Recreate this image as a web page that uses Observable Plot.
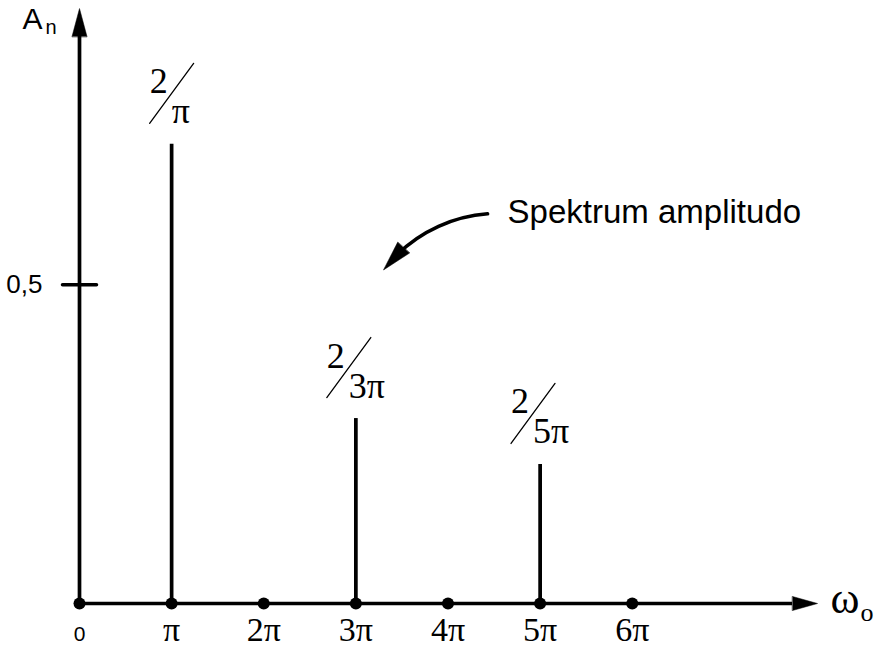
<!DOCTYPE html>
<html>
<head>
<meta charset="utf-8">
<script src="https://cdn.jsdelivr.net/npm/d3@7"></script>
<script src="https://cdn.jsdelivr.net/npm/@observablehq/plot@0.6"></script>
<style>
  html, body { margin: 0; padding: 0; background: #fff; }
  #chart svg { display: block; }
</style>
</head>
<body>
<div id="chart"></div>
<script>
// ---- data (x in multiples of π, y = amplitude) ----
const harmonicN = [1, 3, 5];
const amplitudes = [0.72, 0.29, 0.218];
const numerators = ["2", "2", "2"];
const denominators = ["π", "3π", "5π"];

const xTickValues = [0, 1, 2, 3, 4, 5, 6];
const xTickLabels = ["0", "π", "2π", "3π", "4π", "5π", "6π"];
const yTickValues = [0.5];
const yTickLabels = ["0,5"];

const xAxisTip = 8;        // arrow tip on the ω axis
const xAxisLineEnd = 7.74; // where the shaft meets the arrowhead
const yAxisTip = 0.933;
const yAxisLineEnd = 0.889;

const yAxisTitle = ["A", "n"];
const xAxisTitle = ["ω", "o"];

const noteText = ["Spektrum amplitudo"];
const noteFrom = [4.43, 0.611];
const noteTo = [3.30, 0.523];

// ---- helpers ----
const serif = "'Liberation Serif', 'Times New Roman', serif";
const sans = "'Liberation Sans', Arial, sans-serif";
const lineShape = {draw(ctx, l) { ctx.moveTo(0, 0); ctx.lineTo(0, -l); }};
const headShape = {draw(ctx, l, r) { ctx.moveTo(-r, 0); ctx.lineTo(0, -l); ctx.lineTo(r, 0); ctx.closePath(); }};

const fracSize = 36;
const canvas = document.createElement("canvas").getContext("2d");
canvas.font = `${fracSize}px ${serif}`;
const textWidth = (s) => canvas.measureText(s).width;

const bars = harmonicN.map((n, i) => ({n, a: amplitudes[i], num: numerators[i], den: denominators[i]}));
const ticks = xTickValues.map((v, i) => ({v, label: xTickLabels[i]}));

// fraction labels ("2 ⁄ 3π") centred over each bar
const slashW = 44, slashH = 60;
const fractionMarks = bars.flatMap((b) => {
  const g = Math.max(slashW, 22 + textWidth(b.den));
  const left = -g / 2;
  return [
    Plot.vector([b], {x: "n", y: "a", dx: left, dy: -21, length: Math.hypot(slashW, slashH),
      rotate: Math.atan2(slashW, slashH) * 180 / Math.PI, anchor: "start", shape: lineShape,
      stroke: "black", strokeWidth: 1.3}),
    Plot.text([b], {x: "n", y: "a", text: "num", dx: left, dy: -51, textAnchor: "start",
      lineAnchor: "bottom", fontSize: fracSize, fontFamily: serif, fill: "black"}),
    Plot.text([b], {x: "n", y: "a", text: "den", dx: left + 22, dy: -21, textAnchor: "start",
      lineAnchor: "bottom", fontSize: fracSize, fontFamily: serif, fill: "black"})
  ];
});

const chart = Plot.plot({
  width: 876,
  height: 648,
  marginLeft: 79,
  marginRight: 60,
  marginTop: 8,
  marginBottom: 45,
  x: {domain: [0, xAxisTip], axis: null},
  y: {domain: [0, yAxisTip], axis: null},
  style: {background: "white", color: "black", overflow: "visible"},
  marks: [
    // axes
    Plot.ruleX([0], {y1: 0, y2: yAxisLineEnd, stroke: "black", strokeWidth: 3.7}),
    Plot.ruleY([0], {x1: 0, x2: xAxisLineEnd, stroke: "black", strokeWidth: 3.7}),
    Plot.vector([0], {x: 0, y: yAxisLineEnd, length: 28, r: 7.5, rotate: 0, anchor: "start",
      shape: headShape, fill: "black", stroke: "black", strokeWidth: 0.5}),
    Plot.vector([0], {x: xAxisLineEnd, y: 0, length: 25, r: 7, rotate: 90, anchor: "start",
      shape: headShape, fill: "black", stroke: "black", strokeWidth: 0.5}),
    // y tick
    Plot.vector(yTickValues, {x: 0, y: (d) => d, length: 34, rotate: 90, anchor: "middle",
      shape: lineShape, stroke: "black", strokeWidth: 3.5}),
    Plot.text(yTickValues, {x: 0, y: (d) => d, text: (d, i) => yTickLabels[i], dx: -37, dy: 8,
      textAnchor: "end", lineAnchor: "bottom", fontSize: 26, fontFamily: sans, fill: "black"}),
    // spectral lines
    Plot.ruleX(bars, {x: "n", y1: 0, y2: "a", stroke: "black", strokeWidth: 3.7}),
    // harmonic dots
    Plot.dot(xTickValues, {x: (d) => d, y: 0, r: 6, fill: "black", stroke: "none"}),
    // x tick labels
    Plot.text(ticks.filter((t) => t.v === 0), {x: "v", y: 0, text: "label", dy: 37,
      lineAnchor: "bottom", fontSize: 21, fontFamily: sans, fill: "black"}),
    Plot.text(ticks.filter((t) => t.v !== 0), {x: "v", y: 0, text: "label", dy: 37,
      lineAnchor: "bottom", fontSize: 34, fontFamily: serif, fill: "black"}),
    // axis titles
    Plot.text([yAxisTitle[0]], {x: 0, y: yAxisTip, text: (d) => d, dx: -57, dy: 20, textAnchor: "start",
      lineAnchor: "bottom", fontSize: 30, fontFamily: sans, fill: "black"}),
    Plot.text([yAxisTitle[1]], {x: 0, y: yAxisTip, text: (d) => d, dx: -34, dy: 25, textAnchor: "start",
      lineAnchor: "bottom", fontSize: 20, fontFamily: sans, fill: "black"}),
    Plot.text([xAxisTitle[0]], {x: xAxisTip, y: 0, text: (d) => d, dx: 14, dy: 9, textAnchor: "start",
      lineAnchor: "bottom", fontSize: 44, fontFamily: serif, fill: "black"}),
    Plot.text([xAxisTitle[1]], {x: xAxisTip, y: 0, text: (d) => d, dx: 44, dy: 17, textAnchor: "start",
      lineAnchor: "bottom", fontSize: 26, fontFamily: serif, fill: "black"}),
    // fraction labels
    ...fractionMarks,
    // annotation
    Plot.arrow([0], {x1: noteFrom[0], y1: noteFrom[1], x2: noteTo[0], y2: noteTo[1], bend: -24,
      headLength: 0, insetEnd: 20, stroke: "black", strokeWidth: 3.5}),
    Plot.vector([0], {x: noteTo[0], y: noteTo[1], length: 30, r: 8, rotate: 222, anchor: "end",
      shape: headShape, fill: "black", stroke: "black", strokeWidth: 0.5}),
    Plot.text(noteText, {x: noteFrom[0], y: noteFrom[1], text: (d) => d, dx: 20, dy: 9,
      textAnchor: "start", lineAnchor: "bottom", fontSize: 33, fontFamily: sans, fill: "black"})
  ]
});
document.getElementById("chart").appendChild(chart);
</script>
</body>
</html>
